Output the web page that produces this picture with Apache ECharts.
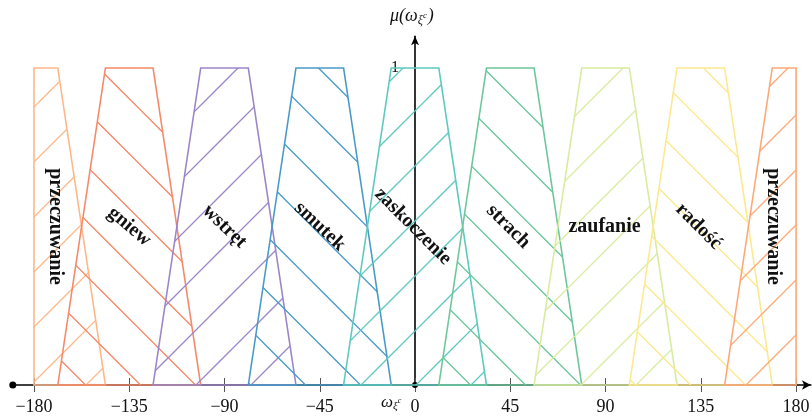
<!DOCTYPE html>
<html><head><meta charset="utf-8">
<script src="https://cdn.jsdelivr.net/npm/echarts@6/dist/echarts.min.js"></script>
<style>html,body{margin:0;padding:0;background:#fff}#c{width:812px;height:418px}</style>
</head><body><div id="c"></div>
<script>
// ---- data ----
const emotions = ['przeczuwanie','gniew','wstręt','smutek','zaskoczenie','strach','zaufanie','radość','przeczuwanie'];
const centers = [-180,-135,-90,-45,0,45,90,135,180];
const colors = ['#FDB88A','#F5896A','#9A86C8','#4A9AC7','#5DC9BF','#6DC69C','#D9EBA1','#FDE88F','#FCA877'];
const hatch = ['/','\\','/','\\','/','\\','/','\\','/'];
const topHalfWidth = 11.25;
const bottomHalfWidth = 33.75;
const labelX = [-170,-135,-90,-45,-1,44,89.5,134,169];
const labelY = [0.5,0.5,0.5,0.5,0.5,0.5,0.5,0.5,0.5];
const labelRotate = [-90,-40,-44,-43,-45,-45,0,-45,-90];
const xTicks = [-180,-135,-90,-45,0,45,90,135,180];
const yTicks = [1];
const domain = [-180,180];
const xExtent = [-190,187];

// ---- helpers ----
function makePattern(color, dir){
  const s = 55, c = document.createElement('canvas');
  c.width = s; c.height = s;
  const g = c.getContext('2d');
  g.strokeStyle = color; g.lineWidth = 1.3;
  g.beginPath();
  if (dir === '/') {
    [31, 86].forEach(k => { g.moveTo(k + 10, -10); g.lineTo(-10, k + 10); });
  } else {
    [24.5, -30.5].forEach(k => { g.moveTo(-10, k - 10); g.lineTo(s + 10, s + 10 + k); });
  }
  g.stroke();
  return {image: c, repeat: 'repeat'};
}
const patterns = colors.map((c,i) => makePattern(c, hatch[i]));

function clipX(pts, lo, hi){
  function clip(poly, inside, inter){
    const out = [];
    for (let i = 0; i < poly.length; i++){
      const a = poly[i], b = poly[(i+1)%poly.length];
      const ia = inside(a), ib = inside(b);
      if (ia) out.push(a);
      if (ia !== ib) out.push(inter(a,b));
    }
    return out;
  }
  const at = (a,b,x) => [x, a[1] + (b[1]-a[1])*(x-a[0])/(b[0]-a[0])];
  let p = clip(pts, q => q[0] >= lo, (a,b) => at(a,b,lo));
  p = clip(p, q => q[0] <= hi, (a,b) => at(a,b,hi));
  return p;
}
function trapezoid(c){
  return clipX([[c-bottomHalfWidth,0],[c-topHalfWidth,1],[c+topHalfWidth,1],[c+bottomHalfWidth,0]], domain[0], domain[1]);
}

const W = 812, gridLeft = 12.8, gridRight = 1.1;
const gridW = W - gridLeft - gridRight;
const zeroOffset = (0 - xExtent[0]) / (xExtent[1] - xExtent[0]) * gridW;

const serif = '"Liberation Serif", "DejaVu Serif", serif';
const chart = echarts.init(document.getElementById('c'), null, {renderer:'canvas'});
chart.setOption({
  animation: false,
  grid: {left: gridLeft, right: gridRight, top: 36.3, bottom: 33, containLabel: false, outerBoundsMode: 'none'},
  xAxis: [{
    type: 'value', min: xExtent[0], max: xExtent[1], position: 'bottom',
    splitLine: {show: false},
    axisLine: {show: true, onZero: false, symbol: ['circle','arrow'], symbolSize: [7,9],
      lineStyle: {color: '#000', width: 1.6}},
    axisTick: {show: true, customValues: xTicks, length: 7, lineStyle: {color: '#555', width: 1}},
    axisLabel: {customValues: xTicks, margin: 13, color: '#111', fontFamily: serif, fontSize: 18,
      formatter: v => v < 0 ? '\u2212' + (-v) : String(v)}
  },{
    type: 'value', min: xExtent[0], max: xExtent[1], position: 'bottom',
    splitLine: {show: false},
    axisLine: {show: false, onZero: false},
    axisTick: {show: true, inside: true, customValues: xTicks, length: 7, lineStyle: {color: '#555', width: 1}},
    axisLabel: {show: false}
  }],
  yAxis: {
    type: 'value', min: 0, max: 1.1, position: 'left', offset: -zeroOffset,
    splitLine: {show: false},
    axisLine: {show: true, onZero: false, symbol: ['circle','arrow'], symbolSize: [6,9],
      lineStyle: {color: '#000', width: 1.6}},
    axisTick: {show: false},
    axisLabel: {customValues: yTicks, margin: 16, color: '#111', fontFamily: serif, fontSize: 16}
  },
  series: [{
    type: 'custom', xAxisIndex: 0, z: 3,
    data: centers.map(c => [c, 0]),
    renderItem: (params, api) => {
      const i = params.dataIndex;
      const pts = trapezoid(centers[i]).map(p => api.coord(p));
      return {type: 'polygon', shape: {points: pts},
        style: {fill: patterns[i], stroke: colors[i], lineWidth: 1.6}};
    }
  },{
    type: 'custom', xAxisIndex: 0, z: 5,
    data: labelX.map((x,i) => [x, labelY[i]]),
    renderItem: (params, api) => {
      const i = params.dataIndex;
      const p = api.coord([api.value(0), api.value(1)]);
      return {type: 'text', x: p[0], y: p[1], rotation: labelRotate[i] * Math.PI / 180,
        style: {text: emotions[i], fill: '#111', align: 'center', verticalAlign: 'middle',
          font: 'bold 20px ' + serif}};
    }
  }],
  graphic: [{
    type: 'text', left: 390, top: 7,
    style: {text: '{m|μ(ω}{s|ξ}{t|c}{m|)}', fill: '#111',
      rich: {
        m: {fontFamily: serif, fontStyle: 'italic', fontSize: 18, lineHeight: 24, verticalAlign: 'middle'},
        s: {fontFamily: serif, fontStyle: 'italic', fontSize: 12, lineHeight: 24, verticalAlign: 'bottom', padding: [0,0,1,0]},
        t: {fontFamily: serif, fontStyle: 'italic', fontSize: 9, lineHeight: 24, verticalAlign: 'middle', padding: [0,1,0,0]}
      }}
  },{
    type: 'text', left: 381, top: 394,
    style: {text: '{m|ω}{s|ξ}{t|c}', fill: '#111',
      rich: {
        m: {fontFamily: serif, fontStyle: 'italic', fontSize: 17, lineHeight: 22, verticalAlign: 'middle'},
        s: {fontFamily: serif, fontStyle: 'italic', fontSize: 11, lineHeight: 22, verticalAlign: 'bottom', padding: [0,0,2,0]},
        t: {fontFamily: serif, fontStyle: 'italic', fontSize: 8, lineHeight: 22, verticalAlign: 'middle', padding: [0,0,4,0]}
      }}
  }]
});
</script></body></html>
